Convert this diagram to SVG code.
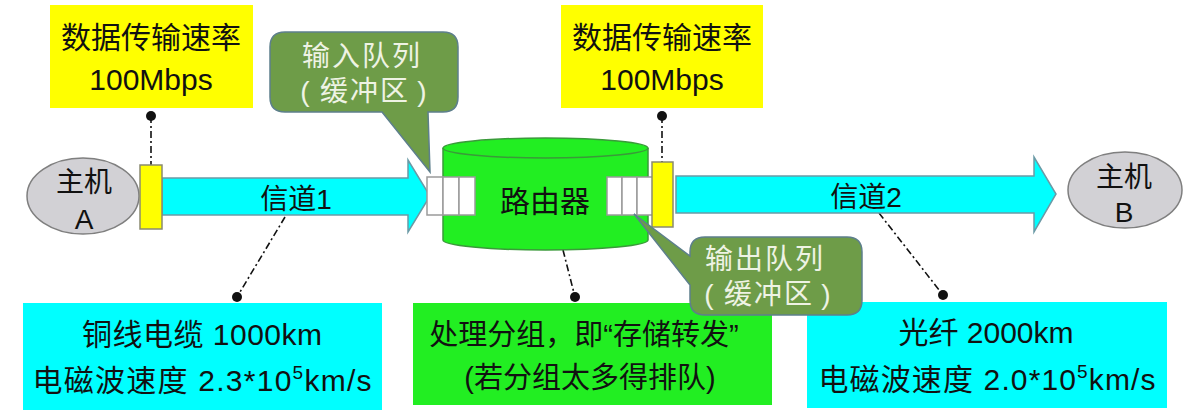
<svg xmlns="http://www.w3.org/2000/svg" width="1189" height="416" viewBox="0 0 1189 416">
<style>
text{font-family:"Liberation Sans","Noto Sans CJK SC",sans-serif;fill:#111;text-anchor:middle}
.yel{fill:#ffff00}
.cyan{fill:#00ffff}
.green{fill:#22ee22}
.host{fill:#d2d1d5;stroke:#7f7f7f;stroke-width:1.5}
.port{fill:#ffff00;stroke:#8a8a70;stroke-width:1.5}
.arrow{fill:#00ffff;stroke:#6b9aa6;stroke-width:1.5}
.q{fill:#ffffff;stroke:#9a9a9a;stroke-width:1.5}
.bub{fill:#6e9c48;stroke:#5d7f8c;stroke-width:1.5}
.bt{fill:#eef3e4;font-size:28px;letter-spacing:2px}
.dash{stroke:#111;stroke-width:1.6;stroke-dasharray:7 3 2 3;fill:none}
.dot{fill:#111}
.f30{font-size:30px}
.f28{font-size:28px}
</style>
<g id="connectors">
<line class="dash" x1="151" y1="116" x2="151" y2="165"/>
<line class="dash" x1="662" y1="116" x2="662" y2="162"/>
<line class="dash" x1="285" y1="217" x2="237" y2="297"/>
<line class="dash" x1="563" y1="250" x2="575" y2="297"/>
<line class="dash" x1="879" y1="213" x2="943" y2="295"/>
<circle class="dot" cx="151" cy="116" r="5"/>
<circle class="dot" cx="662" cy="116" r="5"/>
<circle class="dot" cx="237" cy="297" r="5"/>
<circle class="dot" cx="575" cy="297" r="5"/>
<circle class="dot" cx="943" cy="295" r="5"/>
</g>
<g id="rate-left">
<rect class="yel" x="50" y="5" width="203" height="103"/>
<text class="f30" x="151" y="48">数据传输速率</text>
<text class="f30" x="151" y="90">100Mbps</text>
</g>
<g id="rate-right">
<rect class="yel" x="561" y="5" width="202" height="103"/>
<text class="f30" x="662" y="48">数据传输速率</text>
<text class="f30" x="662" y="90">100Mbps</text>
</g>
<g id="hostA">
<ellipse class="host" cx="83" cy="196" rx="56" ry="38"/>
<text class="f28" x="84" y="192">主机</text>
<text class="f28" x="84" y="229">A</text>
</g>
<g id="channel1">
<polygon class="arrow" points="162,178 408,178 408,160 430,196 408,232 408,215 162,215"/>
<text class="f28" x="296" y="209">信道1</text>
</g>
<g id="port-left">
<rect class="port" x="140" y="165" width="22" height="64"/>
</g>
<g id="router">
<path class="green" stroke="#3a9a3a" stroke-width="1.5" d="M443,148 V240 A102.5,10 0 0 0 648,240 V148"/>
<ellipse class="green" stroke="#3a9a3a" stroke-width="1.5" cx="545.5" cy="148" rx="102.5" ry="10"/>
<text class="f30" x="545" y="212">路由器</text>
</g>
<g id="input-queue">
<rect class="q" x="427" y="177" width="16" height="38"/>
<rect class="q" x="443" y="177" width="16" height="38"/>
<rect class="q" x="459" y="177" width="16" height="38"/>
</g>
<g id="output-queue">
<rect class="q" x="607" y="177" width="15" height="38"/>
<rect class="q" x="622" y="177" width="15" height="38"/>
<rect class="q" x="637" y="177" width="16" height="38"/>
</g>
<g id="port-right">
<rect class="port" x="652" y="162" width="21" height="65"/>
</g>
<g id="channel2">
<polygon class="arrow" points="676,176 1034,176 1034,157 1056,194 1034,232 1034,213 676,213"/>
<text class="f28" x="866" y="207">信道2</text>
</g>
<g id="hostB">
<ellipse class="host" cx="1125" cy="190" rx="57" ry="38"/>
<text class="f28" x="1124" y="187">主机</text>
<text class="f28" x="1124" y="222">B</text>
</g>
<g id="input-bubble">
<path class="bub" d="M285,32 H443 Q458,32 458,47 V97 Q458,112 443,112 H428 L430,172 L382,112 H285 Q270,112 270,97 V47 Q270,32 285,32 Z"/>
<text class="bt" x="362" y="66">输入队列</text>
<text class="bt" y="101"><tspan x="306">(</tspan><tspan x="365">缓冲区</tspan><tspan x="423">)</tspan></text>
</g>
<g id="copper">
<rect class="cyan" x="23" y="303" width="359" height="107"/>
<text class="f30" x="202" y="345" textLength="240">铜线电缆 1000km</text>
<text class="f30" x="202" y="391" textLength="339">电磁波速度 2.3*10<tspan font-size="19" dy="-12">5</tspan><tspan dy="12">km/s</tspan></text>
</g>
<g id="process">
<rect class="green" x="413" y="303" width="359" height="102"/>
<text x="584" y="345" font-size="29">处理分组，即“存储转发”</text>
<text x="590" y="388" font-size="29">(若分组太多得排队)</text>
</g>
<g id="fiber">
<rect class="cyan" x="807" y="302" width="360" height="106"/>
<text class="f30" x="986" y="343">光纤 2000km</text>
<text class="f30" x="987" y="390" textLength="337">电磁波速度 2.0*10<tspan font-size="19" dy="-12">5</tspan><tspan dy="12">km/s</tspan></text>
</g>
<g id="output-bubble">
<path class="bub" d="M705,237 H847 Q862,237 862,252 V300 Q862,315 847,315 H705 Q690,315 690,300 V285 L634,214 L690,256 V252 Q690,237 705,237 Z"/>
<text class="bt" x="765" y="269">输出队列</text>
<text class="bt" y="304"><tspan x="710">(</tspan><tspan x="769">缓冲区</tspan><tspan x="827">)</tspan></text>
</g>
</svg>
